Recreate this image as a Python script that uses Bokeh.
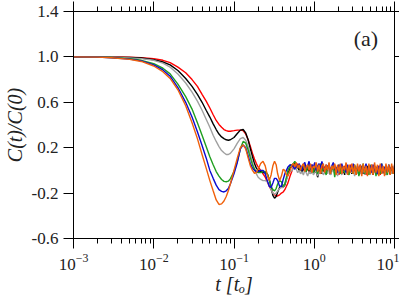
import numpy as np
from bokeh.plotting import figure
from bokeh.models import LogAxis, LinearAxis, FixedTicker, LogTicker, PrintfTickFormatter, Label
from bokeh.embed import file_html
from bokeh.resources import INLINE

# sample times of the smooth part
t_smooth = [0.001, 0.002, 0.003, 0.005, 0.007, 0.01, 0.013, 0.016, 0.02, 0.025,
            0.03, 0.035, 0.04, 0.045, 0.05, 0.055, 0.06, 0.065, 0.07, 0.075,
            0.08, 0.085, 0.09, 0.1, 0.11, 0.12, 0.13, 0.14, 0.15, 0.16,
            0.17, 0.18, 0.19, 0.2, 0.215, 0.23, 0.245, 0.26, 0.275, 0.29,
            0.305, 0.32, 0.335, 0.35, 0.37, 0.39, 0.41, 0.43, 0.45, 0.47,
            0.5, 0.53]
t_noise_start, t_noise_end = 0.55, 10.0

red = [1.0, 1.0, 1.0, 0.998, 0.994, 0.985, 0.97, 0.95, 0.91, 0.86,
       0.80, 0.74, 0.67, 0.61, 0.55, 0.49, 0.44, 0.405, 0.38, 0.36,
       0.35, 0.345, 0.345, 0.35, 0.355, 0.355, 0.35, 0.32, 0.27, 0.21,
       0.15, 0.10, 0.06, 0.03, 0.0, -0.03, -0.06, -0.10, -0.14, -0.17,
       -0.20, -0.215, -0.225, -0.225, -0.215, -0.20, -0.19, -0.17, -0.14, -0.11,
       -0.05, 0.0]
black = [1.0, 1.0, 0.998, 0.995, 0.99, 0.975, 0.955, 0.93, 0.88, 0.81,
         0.74, 0.67, 0.60, 0.53, 0.47, 0.41, 0.36, 0.32, 0.295, 0.28,
         0.27, 0.266, 0.27, 0.29, 0.325, 0.355, 0.36, 0.33, 0.27, 0.19,
         0.12, 0.06, 0.02, 0.0, -0.01, -0.02, -0.02, -0.03, -0.08, -0.15,
         -0.22, -0.245, -0.23, -0.19, -0.15, -0.14, -0.15, -0.13, -0.08, -0.03,
         0.02, 0.04]
gray = [1.0, 1.0, 0.997, 0.99, 0.985, 0.97, 0.945, 0.91, 0.85, 0.77,
        0.69, 0.61, 0.53, 0.45, 0.38, 0.31, 0.255, 0.21, 0.175, 0.155,
        0.14, 0.14, 0.15, 0.19, 0.24, 0.28, 0.29, 0.265, 0.21, 0.14,
        0.07, 0.01, -0.03, -0.06, -0.08, -0.09, -0.09, -0.10, -0.13, -0.17,
        -0.20, -0.21, -0.20, -0.18, -0.16, -0.15, -0.15, -0.12, -0.08, -0.04,
        -0.01, 0.0]
green = [1.0, 0.998, 0.995, 0.985, 0.97, 0.94, 0.90, 0.85, 0.76, 0.65,
         0.54, 0.42, 0.31, 0.21, 0.12, 0.05, -0.01, -0.05, -0.08, -0.097,
         -0.10, -0.095, -0.075, -0.01, 0.08, 0.19, 0.255, 0.24, 0.18, 0.11,
         0.05, 0.01, -0.01, -0.02, -0.02, -0.01, -0.01, -0.03, -0.08, -0.14,
         -0.17, -0.18, -0.16, -0.12, -0.09, -0.10, -0.14, -0.12, -0.06, 0.0,
         0.04, 0.05]
blue = [1.0, 0.998, 0.993, 0.98, 0.965, 0.93, 0.885, 0.83, 0.73, 0.60,
        0.47, 0.34, 0.22, 0.11, 0.0, -0.07, -0.13, -0.17, -0.185, -0.19,
        -0.18, -0.16, -0.12, -0.03, 0.07, 0.19, 0.225, 0.20, 0.13, 0.06,
        0.02, 0.0, -0.01, -0.01, 0.0, 0.0, -0.03, -0.09, -0.14, -0.15,
        -0.11, -0.07, -0.07, -0.09, -0.14, -0.14, -0.08, -0.03, 0.0, 0.03,
        0.05, 0.04]
orange = [1.0, 0.998, 0.993, 0.978, 0.96, 0.92, 0.87, 0.81, 0.71, 0.57,
          0.42, 0.28, 0.14, 0.02, -0.09, -0.18, -0.26, -0.30, -0.295, -0.27,
          -0.23, -0.18, -0.12, 0.0, 0.11, 0.20, 0.225, 0.19, 0.11, 0.04,
          0.0, -0.025, -0.02, 0.01, 0.06, 0.08, 0.04, -0.04, -0.09, -0.04,
          0.04, 0.08, 0.05, -0.03, -0.09, -0.05, 0.01, 0.0, -0.04, -0.05,
          0.0, 0.05]

# fluctuating tails (t from 0.55 to 10)
red_noise = [0.03, 0.05, 0.02, 0.06, 0.01, 0.04, -0.01, 0.03, 0.05, 0.0, 0.04, -0.02,
             0.02, 0.05, -0.01, 0.03, 0.0, 0.04, -0.03, 0.02, 0.05, -0.01, 0.03, -0.02,
             0.04, 0.01, -0.03, 0.03, 0.0, 0.05, -0.02, 0.02, -0.04, 0.03, 0.01, -0.02,
             0.04, -0.01, 0.02, -0.03, 0.05, 0.0, -0.02, 0.03, -0.04, 0.02, 0.01, -0.03,
             0.04, -0.01, 0.02, -0.04, 0.03, 0.0, -0.02, 0.05, -0.03, 0.01, 0.03, -0.02,
             0.04, -0.04, 0.02, 0.0, -0.03, 0.04, -0.01, 0.02, -0.04, 0.03, 0.0, -0.02]
black_noise = [0.05, 0.07, 0.06, 0.03, 0.0, 0.02, -0.02, 0.01, 0.03, -0.01, 0.02, 0.0,
               -0.03, 0.01, 0.02, -0.02, 0.0, -0.06, -0.01, 0.02, -0.03, 0.01, 0.03, -0.02,
               0.0, 0.02, -0.04, 0.01, 0.03, -0.01, 0.02, -0.03, 0.0, 0.04, -0.02, 0.01,
               -0.04, 0.02, 0.0, -0.02, 0.03, -0.03, 0.01, 0.04, -0.02, 0.0, -0.04, 0.03,
               0.01, -0.03, 0.02, -0.01, 0.04, -0.03, 0.0, 0.02, -0.04, 0.03, -0.01, 0.01,
               -0.03, 0.04, 0.0, -0.02, 0.03, -0.04, 0.01, 0.02, -0.03, 0.04, -0.01, 0.0]
gray_noise = [0.02, 0.04, 0.01, -0.02, 0.0, -0.03, -0.01, -0.04, 0.0, -0.02, -0.05, -0.01,
              -0.03, 0.01, -0.04, -0.02, 0.0, -0.05, -0.01, -0.03, 0.01, -0.04, -0.02, 0.0,
              -0.03, 0.02, -0.04, -0.01, 0.01, -0.03, 0.0, -0.05, 0.02, -0.02, -0.04, 0.01,
              -0.01, -0.03, 0.02, -0.04, 0.0, -0.02, 0.01, -0.05, 0.0, -0.02, 0.02, -0.03,
              -0.01, 0.01, -0.04, 0.02, -0.02, 0.0, -0.04, 0.01, -0.03, 0.02, -0.01, -0.04,
              0.01, -0.02, 0.0, -0.03, 0.02, -0.04, 0.0, -0.01, 0.02, -0.03, 0.01, -0.02]
green_noise = [0.06, 0.08, 0.05, 0.02, 0.04, 0.0, 0.03, 0.05, 0.01, -0.01, 0.03, 0.06,
               0.0, 0.02, -0.02, 0.04, 0.01, -0.03, 0.03, 0.06, -0.01, 0.02, 0.0, -0.04,
               0.03, 0.05, -0.02, 0.01, 0.04, -0.06, 0.02, 0.0, 0.05, -0.03, 0.03, 0.01,
               -0.02, 0.06, 0.0, -0.04, 0.03, 0.02, -0.03, 0.05, -0.01, 0.02, -0.05, 0.04,
               0.0, 0.06, -0.03, 0.02, 0.01, -0.04, 0.05, 0.0, -0.02, 0.04, -0.05, 0.03,
               0.01, -0.03, 0.06, -0.02, 0.02, 0.0, -0.04, 0.05, -0.01, 0.03, -0.03, 0.02]
blue_noise = [0.03, 0.01, 0.05, 0.02, 0.06, 0.03, 0.0, 0.05, 0.07, 0.02, 0.04, 0.08,
              0.01, 0.05, 0.03, 0.07, 0.0, 0.04, 0.06, 0.02, 0.08, 0.03, 0.0, 0.05,
              0.02, 0.06, -0.01, 0.04, 0.07, 0.01, 0.03, -0.02, 0.05, 0.02, 0.06, 0.0,
              0.03, -0.02, 0.05, 0.01, 0.04, -0.01, 0.06, 0.02, -0.02, 0.04, 0.0, 0.05,
              -0.03, 0.03, 0.01, 0.06, -0.01, 0.02, 0.04, -0.02, 0.05, 0.0, 0.03, -0.03,
              0.04, 0.01, 0.06, -0.02, 0.02, 0.04, -0.01, 0.05, 0.0, 0.03, -0.02, 0.04]
orange_noise = [0.06, 0.03, 0.07, 0.02, 0.05, 0.0, 0.04, 0.06, -0.01, 0.03, 0.05, 0.0,
                0.06, -0.02, 0.04, 0.02, 0.07, -0.01, 0.05, -0.03, 0.04, 0.06, -0.02, 0.05,
                0.0, 0.07, -0.03, 0.04, 0.01, 0.06, -0.04, 0.05, -0.01, 0.06, -0.03, 0.04,
                0.0, 0.07, -0.04, 0.05, -0.02, 0.06, -0.03, 0.05, -0.04, 0.06, -0.01, 0.05,
                -0.05, 0.06, -0.02, 0.04, -0.05, 0.06, -0.03, 0.05, -0.04, 0.07, -0.02, 0.05,
                -0.05, 0.06, -0.03, 0.04, -0.05, 0.06, -0.02, 0.05, -0.04, 0.06, -0.03, 0.05]

y_ticks = [-0.6, -0.2, 0.2, 0.6, 1.0, 1.4]

series = [
    (red, red_noise, "#ff0000"),
    (black, black_noise, "#000000"),
    (gray, gray_noise, "#a0a0a0"),
    (green, green_noise, "#1f9e1f"),
    (blue, blue_noise, "#0a0ad0"),
    (orange, orange_noise, "#f0600a"),
]

FONT = "Liberation Serif"

p = figure(width=399, height=297, x_axis_type="log", x_range=(1e-3, 10), y_range=(-0.6, 1.4),
           output_backend="svg", toolbar_location=None,
           min_border_left=71, min_border_right=5, min_border_top=11, min_border_bottom=58)
p.grid.visible = False
p.outline_line_color = "black"
p.background_fill_color = "white"
p.border_fill_color = "white"

for smooth, noise, col in series:
    tn = np.geomspace(t_noise_start, t_noise_end, len(noise))
    xs = list(t_smooth) + list(tn)
    ys = list(smooth) + list(noise)
    p.line(xs, ys, line_color=col, line_width=1.4)

xa = p.xaxis[0]
xa.axis_label = "t [tₒ]"
xa.ticker = LogTicker(num_minor_ticks=10)
ya = p.yaxis[0]
ya.axis_label = "C(t)/C(0)"
ya.ticker = FixedTicker(ticks=y_ticks, minor_ticks=[])
ya.formatter = PrintfTickFormatter(format="%.1f")

for ax in (xa, ya):
    ax.major_tick_in = 0
    ax.major_tick_out = 10
    ax.minor_tick_in = 0
    ax.minor_tick_out = 5
    ax.major_label_text_font = FONT
    ax.major_label_text_font_size = "17px"
    ax.major_label_text_color = "#222222"
    ax.axis_label_text_font = FONT
    ax.axis_label_text_font_size = "20px"
    ax.axis_label_text_font_style = "italic"
    ax.axis_label_text_color = "#222222"
    ax.axis_line_color = "black"
    ax.major_tick_line_color = "black"
    ax.minor_tick_line_color = "black"
ya.major_label_standoff = 5
ya.axis_label_standoff = 3
xa.major_label_standoff = 5
xa.axis_label_standoff = 0

top = LogAxis(ticker=LogTicker(num_minor_ticks=10))
top.major_tick_in = 0
top.major_tick_out = 10
top.minor_tick_in = 0
top.minor_tick_out = 5
top.major_label_text_font_size = "1px"
top.major_label_text_color = None
top.major_label_standoff = 0
p.add_layout(top, "above")

right = LinearAxis(ticker=FixedTicker(ticks=y_ticks, minor_ticks=[]))
right.major_tick_in = 0
right.major_tick_out = 5
right.minor_tick_in = 0
right.minor_tick_out = 0
right.major_label_text_font_size = "1px"
right.major_label_text_color = None
right.major_label_standoff = 0
p.add_layout(right, "right")

p.add_layout(Label(x=4.4, y=1.165, text="(a)", text_font=FONT, text_font_size="22px",
                   text_align="center", text_baseline="middle", text_color="#222222"))

open("out.html", "w").write(file_html(p, INLINE))
